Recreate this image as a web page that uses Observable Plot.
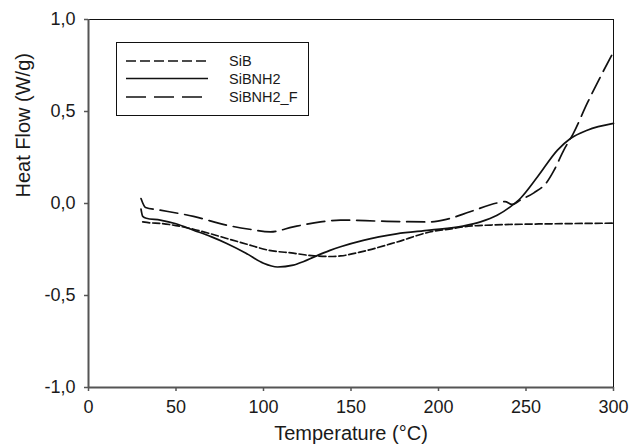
<!DOCTYPE html>
<html>
<head>
<meta charset="utf-8">
<script src="https://cdn.jsdelivr.net/npm/d3@7"></script>
<script src="https://cdn.jsdelivr.net/npm/@observablehq/plot@0.6"></script>
<style>
  html, body { margin: 0; padding: 0; background: #fff; }
  #chart { width: 632px; height: 448px; }
</style>
</head>
<body>
<div id="chart"></div>
<script>
// ---- Data ----
const sibT  = [31, 35, 41, 50, 60, 70, 79, 90, 103, 117, 129, 138, 144, 157, 176, 195, 209, 214, 230, 253, 275, 300];
const sibHF = [-0.10, -0.105, -0.108, -0.12, -0.14, -0.165, -0.19, -0.22, -0.254, -0.27, -0.285, -0.288, -0.285, -0.26, -0.21, -0.155, -0.135, -0.127, -0.117, -0.112, -0.109, -0.107];

const nh2T  = [30, 31, 33, 41, 50, 60, 70, 79, 90, 100, 108, 117, 123, 129, 138, 144, 157, 176, 195, 214, 224, 233.5, 241, 247, 256.6, 268, 275.4, 285, 300];
const nh2HF = [-0.03, -0.07, -0.08, -0.09, -0.11, -0.145, -0.18, -0.217, -0.27, -0.325, -0.345, -0.335, -0.315, -0.29, -0.255, -0.235, -0.2, -0.165, -0.145, -0.123, -0.10, -0.064, -0.018, 0.03, 0.145, 0.29, 0.353, 0.398, 0.435];

const fT  = [30, 32.6, 41, 60, 79, 92, 104, 117, 132.6, 144, 167, 195, 205, 218, 233.5, 238, 242, 247, 254.5, 262, 266, 271.6, 277, 285, 292.6, 300];
const fHF = [0.027, -0.022, -0.036, -0.07, -0.118, -0.14, -0.154, -0.127, -0.10, -0.09, -0.096, -0.10, -0.085, -0.045, 0.003, 0.01, -0.005, 0.02, 0.058, 0.117, 0.18, 0.29, 0.38, 0.545, 0.69, 0.824];

const seriesNames = ["SiB", "SiBNH2", "SiBNH2_F"];
const xTicks = [0, 50, 100, 150, 200, 250, 300];
const yTicks = [-1.0, -0.5, 0.0, 0.5, 1.0];
const xTitle = "Temperature (°C)";
const yTitle = "Heat Flow (W/g)";

const toRows = (T, H) => T.map((t, i) => ({t, h: H[i]}));
const sib = toRows(sibT, sibHF);
const nh2 = toRows(nh2T, nh2HF);
const sibF = toRows(fT, fHF);

const dashes = ["7,3", null, "18,7"];
const font = "'Liberation Sans', Arial, Helvetica, sans-serif";
const axisColor = "#555";

const plot = Plot.plot({
  width: 632,
  height: 448,
  marginLeft: 88,
  marginRight: 19,
  marginTop: 19,
  marginBottom: 61,
  style: {fontFamily: font, background: "#fff", overflow: "visible"},
  x: {domain: [0, 300]},
  y: {domain: [-1, 1]},
  marks: [
    Plot.frame({stroke: "#111", strokeWidth: 1}),
    Plot.axisX({ticks: xTicks, tickSize: 4, tickPadding: 9, fontSize: 18, stroke: axisColor, strokeWidth: 1.5, color: "#1a1a1a", label: null}),
    Plot.axisY({ticks: yTicks, tickSize: 4, tickPadding: 9, fontSize: 18, stroke: axisColor, strokeWidth: 1.5, color: "#1a1a1a", label: null,
      tickFormat: d => d.toFixed(1).replace(".", ",")}),
    Plot.ruleX([0], {stroke: axisColor, strokeWidth: 2}),
    Plot.ruleY([-1], {stroke: axisColor, strokeWidth: 2}),
    Plot.line(sib,  {x: "t", y: "h", stroke: "#111", strokeWidth: 1.7, strokeDasharray: dashes[0], curve: "monotone-x"}),
    Plot.line(nh2,  {x: "t", y: "h", stroke: "#111", strokeWidth: 1.7, curve: "monotone-x"}),
    Plot.line(sibF, {x: "t", y: "h", stroke: "#111", strokeWidth: 1.7, strokeDasharray: dashes[2], curve: "monotone-x"}),
    Plot.text([xTitle], {text: d => d, frameAnchor: "bottom", dy: 52, fontSize: 20, fill: "#1a1a1a"}),
    Plot.text([yTitle], {text: d => d, frameAnchor: "left", dx: -65, dy: -6, rotate: -90, fontSize: 20, fill: "#1a1a1a"})
  ]
});

// ---- Legend (drawn inside the SVG) ----
const svg = d3.select(plot);
const lg = svg.append("g").attr("font-family", font).attr("text-anchor", "start");
lg.append("rect").attr("x", 116.5).attr("y", 42.5).attr("width", 192).attr("height", 73)
  .attr("fill", "#fff").attr("stroke", "#111").attr("stroke-width", 1);
const rowsY = [61, 78.5, 97];
seriesNames.forEach((name, i) => {
  lg.append("line").attr("x1", 126).attr("x2", 208).attr("y1", rowsY[i]).attr("y2", rowsY[i])
    .attr("stroke", "#111").attr("stroke-width", 1.7)
    .attr("stroke-dasharray", i === 0 ? "10,4" : i === 2 ? "20,8" : null);
  lg.append("text").attr("x", 229).attr("y", rowsY[i]).attr("dy", "0.36em")
    .attr("text-anchor", "start")
    .attr("font-size", 14.5).attr("fill", "#1a1a1a").text(name);
});

document.getElementById("chart").appendChild(plot);
</script>
</body>
</html>
